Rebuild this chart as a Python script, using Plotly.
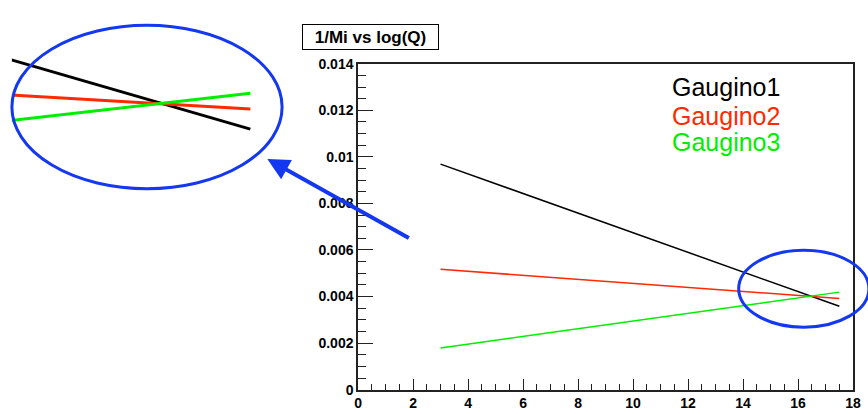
import plotly.graph_objects as go

# ---- data ----
series_names = ["Gaugino1", "Gaugino2", "Gaugino3"]
log_q = [3.0, 17.5]
inv_m1 = [0.00969, 0.00358]
inv_m2 = [0.00517, 0.00392]
inv_m3 = [0.00179, 0.00419]
series_colors = ["#000000", "#ff2a00", "#00ee00"]

x_tick_vals = [0, 2, 4, 6, 8, 10, 12, 14, 16, 18]
x_tick_labels = ["0", "2", "4", "6", "8", "10", "12", "14", "16", "18"]
y_tick_vals = [0, 0.002, 0.004, 0.006, 0.008, 0.010, 0.012, 0.014]
y_tick_labels = ["0", "0.002", "0.004", "0.006", "0.008", "0.01", "0.012", "0.014"]
chart_title = "1/Mi vs log(Q)"

W, H = 868, 414
def px(x):
    return x / W
def py(y):
    return 1 - y / H

BLUE = "#1438f0"
FONT = "Liberation Sans, Arial, sans-serif"

fig = go.Figure()
values = [inv_m1, inv_m2, inv_m3]
for name, vals, col in zip(series_names, values, series_colors):
    fig.add_trace(go.Scatter(x=log_q, y=vals, mode="lines", name=name,
                             line=dict(color=col, width=1.5),
                             xaxis="x", yaxis="y", showlegend=False))
# magnified inset
for name, vals, col in zip(series_names, values, series_colors):
    fig.add_trace(go.Scatter(x=log_q, y=vals, mode="lines", name=name,
                             line=dict(color=col, width=3),
                             xaxis="x2", yaxis="y2", showlegend=False))

axis_font = dict(family=FONT, size=14, color="#000000", weight="bold")

fig.update_layout(
    width=W, height=H,
    margin=dict(l=0, r=0, t=0, b=0),
    paper_bgcolor="white", plot_bgcolor="white",
    showlegend=False,
    xaxis=dict(domain=[px(359), px(861)], range=[0, 18],
               tickvals=x_tick_vals, ticktext=x_tick_labels,
               ticks="inside", ticklen=11, tickwidth=1.2, tickcolor="#222",
               minor=dict(dtick=0.5, ticks="inside", ticklen=6, tickwidth=1.2, tickcolor="#222"),
               showline=True, linecolor="#222", linewidth=1.5, mirror=True,
               showgrid=False, zeroline=False, tickfont=axis_font,
               ticklabeloverflow="allow",
               anchor="y", fixedrange=True),
    yaxis=dict(domain=[py(397), py(58)], range=[0, 0.014],
               tickvals=y_tick_vals, ticktext=y_tick_labels,
               ticks="inside", ticklen=15, tickwidth=1.2, tickcolor="#222",
               minor=dict(dtick=0.0005, ticks="inside", ticklen=8, tickwidth=1.2, tickcolor="#222"),
               showline=True, linecolor="#222", linewidth=1.5, mirror=True,
               showgrid=False, zeroline=False, tickfont=axis_font,
               ticklabeloverflow="allow",
               anchor="x", fixedrange=True),
    xaxis2=dict(domain=[px(8), px(282)], range=[14.72, 17.87], visible=False,
                anchor="y2", fixedrange=True),
    yaxis2=dict(domain=[py(188), py(18)], range=[0.00257, 0.00534], visible=False,
                anchor="x2", fixedrange=True),
)

shapes = [
    dict(type="circle", xref="paper", yref="paper",
         x0=px(8), x1=px(282), y0=py(188), y1=py(18),
         line=dict(color=BLUE, width=3)),
    dict(type="circle", xref="paper", yref="paper",
         x0=px(745), x1=px(877), y0=py(332), y1=py(252),
         line=dict(color=BLUE, width=3)),
]
fig.update_layout(shapes=shapes)

annotations = [
    dict(text="<b>" + chart_title + "</b>", xref="paper", yref="paper",
         x=px(302), y=py(17), xanchor="left", yanchor="top", showarrow=False,
         font=dict(family=FONT, size=17, color="#000"),
         bordercolor="#000", borderwidth=1, borderpad=1, bgcolor="white",
         width=133, height=22),
    dict(text="", xref="paper", yref="paper", x=px(267), y=py(157),
         showarrow=True, ax=143, ay=80, arrowhead=2, arrowsize=1.1,
         arrowwidth=4, arrowcolor=BLUE),
]
legend_y = [82, 112, 139]
for name, col, yy in zip(series_names, series_colors, legend_y):
    annotations.append(dict(text=name, xref="paper", yref="paper",
                            x=px(675), y=py(yy), xanchor="left", yanchor="middle",
                            showarrow=False,
                            font=dict(family=FONT, size=25, color=col)))
fig.update_layout(annotations=annotations)

fig.write_html("out.html", config={"displayModeBar": False},
               post_script="document.body.style.margin='0';document.body.style.overflow='hidden';")
